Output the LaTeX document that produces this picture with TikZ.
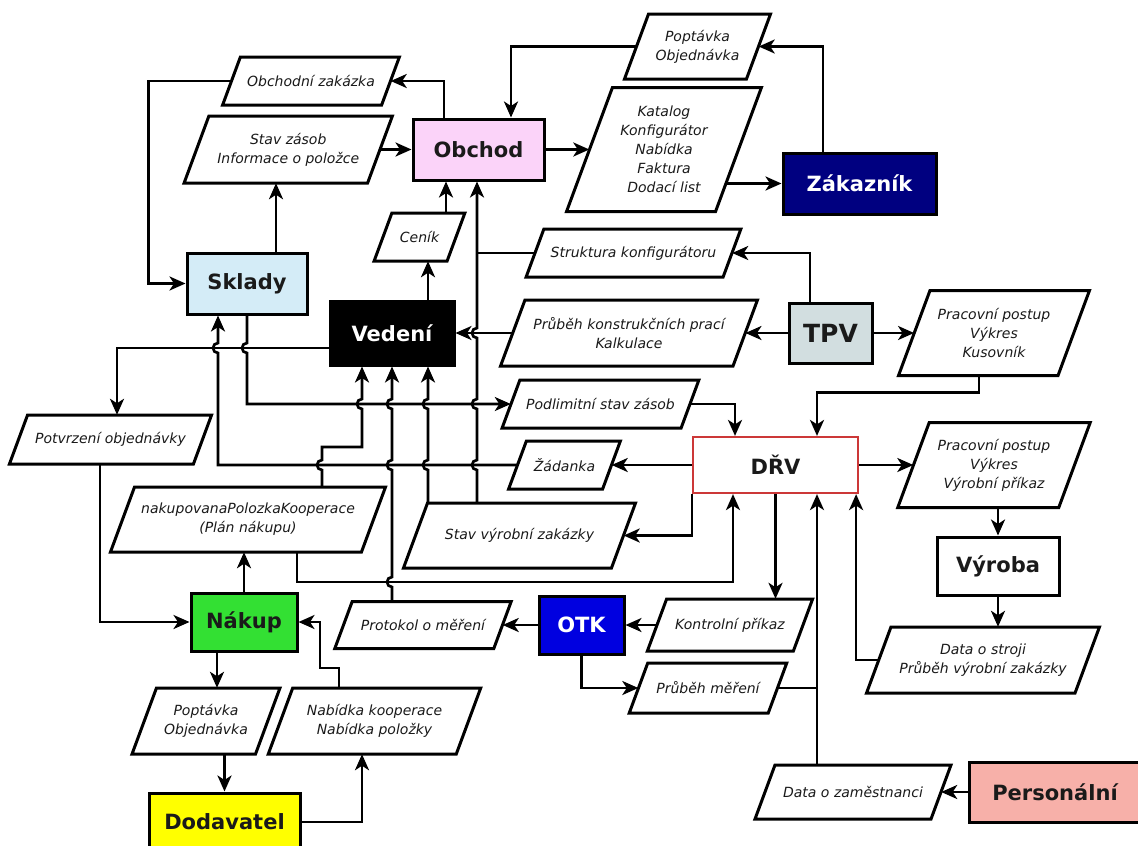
\documentclass[tikz,border=0pt]{standalone}
\usepackage{fontspec}
\setmainfont{DejaVu Sans}
\usetikzlibrary{arrows.meta}

\pgfdeclarelayer{bg}
\pgfdeclarelayer{back}
\pgfdeclarelayer{mid}
\pgfsetlayers{bg,back,mid,main}

\definecolor{cobchod}{HTML}{FBD3F9}
\definecolor{czakaznik}{HTML}{000080}
\definecolor{csklady}{HTML}{D4ECF7}
\definecolor{ctpv}{HTML}{D2DEE0}
\definecolor{cdrv}{HTML}{CC3838}
\definecolor{cotk}{HTML}{0000E0}
\definecolor{cnakup}{HTML}{33E033}
\definecolor{cdodavatel}{HTML}{FFFF00}
\definecolor{cpersonal}{HTML}{F7B0A9}
\definecolor{ctext}{HTML}{1A1A1A}

\tikzset{
  proc/.style={draw, line width=3pt, inner sep=0pt, text=ctext,
    font=\bfseries\fontsize{21}{25}\selectfont},
  io/.style={inner sep=0pt, align=center, text=ctext,
    font=\itshape\fontsize{14}{19}\selectfont},
  iobord/.style={draw, line width=3pt, fill=white, line join=miter},
  arr/.style={line width=2.7pt, -{Stealth[length=16pt,width=14pt,inset=4.5pt]}},
  wire/.style={line width=2.7pt},
}

% data parallelogram: name, centre x, centre y, edge length, height, text
\newcommand\iobox[6]{%
  \node[io, minimum width=#4pt, minimum height=#5pt] (#1) at (#2,#3) {#6};
  \begin{pgfonlayer}{mid}
    \draw[iobord] ({#2-#4/2-0.185*#5},{#3+#5/2}) -- ({#2+#4/2-0.185*#5},{#3+#5/2})
      -- ({#2+#4/2+0.185*#5},{#3-#5/2}) -- ({#2-#4/2+0.185*#5},{#3-#5/2}) -- cycle;
  \end{pgfonlayer}}

% line jumps on vertical wires (bulging to the left)
\newcommand\hopup[2]{-- (#1,{#2+5}) arc[start angle=90,end angle=270,radius=5]}
\newcommand\hopdn[2]{-- (#1,{#2-5}) arc[start angle=270,end angle=90,radius=5]}

\begin{document}
\begin{tikzpicture}[x=1pt,y=-1pt]
\useasboundingbox (0,0) rectangle (1138,846);
\begin{pgfonlayer}{bg}
  \fill[white] (0,0) rectangle (1138,846);
\end{pgfonlayer}

% ---------- process boxes ----------
\node[proc, fill=cobchod, minimum width=131pt, minimum height=61pt] (Obc) at (478.5,149.5) {Obchod};
\node[proc, fill=czakaznik, text=white, minimum width=153pt, minimum height=61pt] (Zak) at (859.5,183.5) {Zákazník};
\node[proc, fill=csklady, minimum width=120pt, minimum height=61pt] (Skl) at (247,283.5) {Sklady};
\node[proc, fill=black, text=white, minimum width=124pt, minimum height=64pt] (Ved) at (392,333) {Vedení};
\node[proc, fill=ctpv, minimum width=83pt, minimum height=60pt, font=\bfseries\fontsize{25}{29}\selectfont] (TPV) at (830.5,333) {TPV};
\node[proc, draw=cdrv, line width=2.2pt, fill=white, minimum width=165pt, minimum height=56pt] (DRV) at (775.5,465) {DŘV};
\node[proc, fill=white, minimum width=122pt, minimum height=58pt] (Vyr) at (998,566) {Výroba};
\node[proc, fill=cotk, text=white, minimum width=85pt, minimum height=58pt] (OTK) at (581.5,625) {OTK};
\node[proc, fill=cnakup, minimum width=106pt, minimum height=58pt] (Nak) at (244,622) {Nákup};
\node[proc, fill=cdodavatel, minimum width=151pt, minimum height=58pt] (Dod) at (224.5,822) {Dodavatel};
\node[proc, fill=cpersonal, minimum width=172pt, minimum height=60pt] (Per) at (1055,792) {Personální};

% ---------- data items ----------
\iobox{OZ}{311}{81}{159}{48}{Obchodní zakázka}
\iobox{SZ}{288.25}{149.5}{183.5}{67}{Stav zásob\\Informace o položce}
\iobox{PO}{697.5}{46.5}{122}{65}{Poptávka\\Objednávka}
\iobox{KAT}{664}{149.5}{149}{124}{Katalog\\Konfigurátor\\Nabídka\\Faktura\\Dodací list}
\iobox{CEN}{419.5}{237}{73}{48}{Ceník}
\iobox{STR}{633.5}{253}{197}{48}{Struktura konfigurátoru}
\iobox{PKP}{629}{333}{232.5}{66}{Průběh konstrukčních prací\\Kalkulace}
\iobox{PPK}{994}{333}{159.5}{85}{Pracovní postup\\Výkres\\Kusovník}
\iobox{POT}{110.5}{439.5}{184}{49}{Potvrzení objednávky}
\iobox{POD}{600.5}{404}{179}{48}{Podlimitní stav zásob}
\iobox{ZAD}{564.5}{465}{94}{48}{Žádanka}
\iobox{PPV}{994}{465}{161}{85}{Pracovní postup\\Výkres\\Výrobní příkaz}
\iobox{NPK}{248}{519.5}{251}{65}{nakupovanaPolozkaKooperace\\(Plán nákupu)}
\iobox{SVZ}{519.5}{535.5}{208}{65}{Stav výrobní zakázky}
\iobox{PRO}{423}{625}{159}{47}{Protokol o měření}
\iobox{KON}{730}{625}{146}{52}{Kontrolní příkaz}
\iobox{PRM}{708}{688}{139}{50}{Průběh měření}
\iobox{DST}{983}{660}{208.5}{66}{Data o stroji\\Průběh výrobní zakázky}
\iobox{POPB}{206}{721}{123.5}{66}{Poptávka\\Objednávka}
\iobox{NAB}{374.5}{721}{188}{66}{Nabídka kooperace\\Nabídka položky}
\iobox{DOZ}{853}{792}{176}{54}{Data o zaměstnanci}

% ---------- connectors ----------
\begin{pgfonlayer}{back}
% customer side
\draw[arr] ([xshift=-36.5]Zak.north) |- (PO.east);
\draw[arr] (PO.west) -| ([xshift=32.5]Obc.north);
\draw[arr] ([xshift=-34.5]Obc.north) |- (OZ.east);
\draw[arr] (OZ.west) -| ([xshift=-37]Skl.west) -- (Skl.west);
\draw[arr] (SZ.east) -- (Obc.west);
\draw[arr] ([xshift=29]Skl.north) -- ([xshift=29]Skl.north |- SZ.south);
\draw[arr] (Obc.east) -- (KAT.west);
\draw[arr] (KAT.center |- Zak.west) -- (Zak.west);
% management
\draw[arr] ([xshift=36]Ved.north) -- ([xshift=36]Ved.north |- CEN.south);
\draw[arr] ([xshift=-32.5]Obc.south |- CEN.north) -- ([xshift=-32.5]Obc.south);
\draw[arr] ([xshift=-42.5]SVZ.north) \hopup{477}{465} \hopup{477}{404} \hopup{477}{333} -- ([xshift=-1.5]Obc.south);
\draw[wire] (STR.west) -- (477,253);
\draw[arr] (PKP.west) -- (Ved.east);
\draw[arr] (TPV.west) -- (PKP.east);
\draw[arr] ([xshift=-20.5]TPV.north) |- (STR.east);
\draw[arr] (TPV.east) -- (PPK.west);
\draw[arr] ([xshift=-15]PPK.south) -- ++(0,16.5) -| ([xshift=41.5]DRV.north);
\draw[arr] ([yshift=-15]Ved.west) -| ([xshift=6.5]POT.north);
% stores
\draw[arr] (Skl.south) \hopdn{247}{348} |- (POD.west);
\draw[arr] (POD.east) -| ([xshift=-40.5]DRV.north);
\draw[arr] (ZAD.west) -- (218,465) \hopup{218}{348} -- ([xshift=-29]Skl.south);
\draw[arr] (DRV.west) -- (ZAD.east);
% production
\draw[arr] (DRV.south west) |- (SVZ.east);
\draw[arr] (DRV.east) -- (PPV.west);
\draw[arr] (Vyr.north |- PPV.south) -- (Vyr.north);
\draw[arr] (Vyr.south) -- (Vyr.south |- DST.north);
\draw[arr] (DST.west) -| ([xshift=-3]DRV.south east);
\draw[arr] ([xshift=41.5]DRV.south |- DOZ.north) -- ([xshift=41.5]DRV.south);
\draw[wire] (PRM.east) -- ([xshift=41.5]DRV.south |- PRM.east);
\draw[arr] (DRV.south) -- (DRV.south |- KON.north);
\draw[arr] (KON.west) -- (OTK.east);
\draw[arr] (OTK.west) -- (PRO.east);
\draw[arr] (OTK.south) |- (PRM.west);
\draw[arr] (Per.west) -- (DOZ.east);
% reports to management
\draw[arr] ([xshift=-31]PRO.north) \hopup{392}{582} \hopup{392}{465} \hopup{392}{404} -- (Ved.south);
\draw[arr] ([xshift=-91.5]SVZ.north) \hopup{428}{465} \hopup{428}{404} -- ([xshift=36]Ved.south);
\draw[arr] ([xshift=74]NPK.north) \hopup{322}{465} -- (322,447) -- (362,447) \hopup{362}{404} -- ([xshift=-30]Ved.south);
% purchasing
\draw[arr] ([xshift=49]NPK.south) |- (733,582) -- ([xshift=-42.5]DRV.south);
\draw[arr] (Nak.north) -- (Nak.north |- NPK.south);
\draw[arr] ([xshift=-10.5]POT.south) |- (Nak.west);
\draw[arr] ([xshift=-27]Nak.south) -- ([xshift=-27]Nak.south |- POPB.north);
\draw[arr] (Dod.north |- POPB.south) -- (Dod.north);
\draw[arr] (Dod.east) -| ([xshift=-12.5]NAB.south);
\draw[arr] ([xshift=-35.5]NAB.north) |- (320,668) |- (Nak.east);
\end{pgfonlayer}
\end{tikzpicture}
\end{document}
